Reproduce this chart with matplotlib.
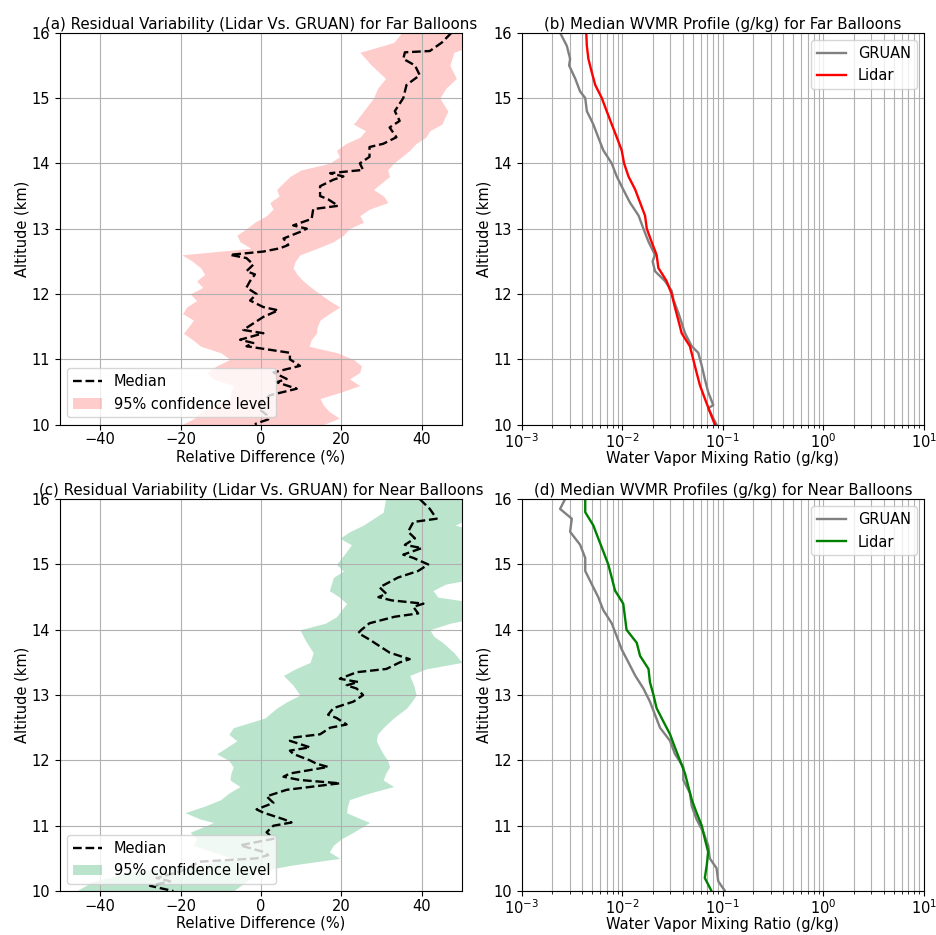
import matplotlib
matplotlib.use('Agg')
import matplotlib.pyplot as plt
import numpy as np

# ---- (a) far balloons: residual variability (%) ----
far_med_alt = [16.0, 15.85, 15.72, 15.7, 15.6, 15.5, 15.35, 15.2, 15.0, 14.8, 14.65, 14.55, 14.4,
               14.3, 14.25, 14.1, 14.0, 13.9, 13.85, 13.8, 13.75, 13.65, 13.5, 13.45, 13.35, 13.3,
               13.15, 13.05, 13.0, 12.95, 12.85, 12.75, 12.7, 12.65, 12.6, 12.55, 12.45, 12.35, 12.3,
               12.2, 12.1, 12.0, 11.9, 11.8, 11.75, 11.65, 11.55, 11.45, 11.4, 11.3, 11.25, 11.2,
               11.1, 11.0, 10.9, 10.8, 10.7, 10.65, 10.55, 10.45, 10.35, 10.25, 10.15, 10.08, 10.02, 10.0]
far_med = [47.4, 45.0, 42.0, 35.8, 35.4, 38.3, 39.5, 36.2, 35.4, 33.3, 34.5, 32.0, 33.7,
           30.4, 27.0, 27.0, 24.6, 25.4, 17.2, 20.5, 18.0, 14.7, 14.7, 16.7, 19.2, 13.0,
           12.6, 8.0, 11.4, 9.7, 5.6, 6.8, 4.7, 0.6, -7.7, -3.6, -1.9, -3.6, -1.5,
           -2.7, -3.6, -1.1, -2.7, 0.6, 4.3, 0.6, -1.9, -4.4, 0.6, -5.2, -1.9, -3.6,
           7.2, 7.2, 9.7, 3.1, 6.4, 3.9, 8.9, 2.2, 0.2, -0.7, 1.4, 1.8, -1.1, -1.5]

far_ci_alt = [16.0, 15.85, 15.7, 15.5, 15.3, 15.15, 15.0, 14.8, 14.6, 14.5, 14.4, 14.3, 14.2, 14.1,
              14.0, 13.9, 13.8, 13.7, 13.6, 13.5, 13.4, 13.3, 13.2, 13.1, 13.0, 12.9, 12.8, 12.7,
              12.6, 12.5, 12.4, 12.3, 12.2, 12.1, 12.0, 11.9, 11.8, 11.7, 11.6, 11.5, 11.4, 11.3,
              11.2, 11.1, 11.0, 10.9, 10.8, 10.7, 10.6, 10.5, 10.4, 10.3, 10.2, 10.1, 10.0]
far_ci_lo = [35.0, 33.0, 24.6, 27.5, 31.0, 29.0, 28.0, 25.5, 23.0, 26.0, 24.6, 21.0, 18.8, 19.5,
             17.0, 10.0, 7.2, 5.5, 3.9, 4.5, 2.2, 3.0, 1.4, -1.5, -3.6, -6.0, -5.2, -2.5,
             -19.7, -17.0, -15.0, -14.0, -16.0, -14.5, -17.6, -16.0, -18.5, -19.5, -16.8, -18.0, -19.3, -17.0,
             -15.0, -10.0, -7.7, -11.0, -13.5, -12.0, -6.9, -7.5, -7.7, -12.0, -15.0, -16.5, -19.7]
far_ci_hi = [55.0, 55.0, 48.0, 47.0, 48.6, 46.0, 44.5, 46.5, 45.0, 42.0, 41.0, 38.5, 37.0, 35.0,
             33.0, 31.5, 32.0, 30.0, 28.0, 30.5, 31.6, 27.0, 24.6, 25.5, 22.0, 20.5, 18.0, 14.0,
             9.7, 8.5, 8.0, 9.0, 10.5, 12.5, 14.7, 17.0, 19.6, 17.0, 14.7, 14.0, 13.8, 12.5,
             12.0, 19.0, 23.0, 25.0, 24.6, 22.0, 24.6, 20.0, 14.7, 15.5, 17.0, 19.5, 15.5]

# ---- (c) near balloons: residual variability (%) ----
near_med_alt = [16.0, 15.85, 15.7, 15.65, 15.5, 15.4, 15.3, 15.25, 15.15, 15.1, 15.0, 14.9, 14.8,
                14.65, 14.55, 14.5, 14.45, 14.4, 14.35, 14.25, 14.2, 14.1, 14.0, 13.95, 13.85, 13.75,
                13.65, 13.55, 13.5, 13.4, 13.35, 13.25, 13.2, 13.15, 13.1, 13.0, 12.9, 12.8, 12.7,
                12.65, 12.55, 12.5, 12.4, 12.35, 12.3, 12.2, 12.15, 12.1, 12.0, 11.95, 11.9, 11.8,
                11.75, 11.7, 11.65, 11.55, 11.5, 11.45, 11.35, 11.25, 11.2, 11.1, 11.05, 11.0, 10.9,
                10.8, 10.75, 10.7, 10.6, 10.55, 10.5, 10.45, 10.3, 10.2, 10.15, 10.08, 10.0]
near_med = [39.5, 42.0, 43.7, 37.9, 36.6, 38.3, 35.8, 40.0, 35.4, 37.9, 41.6, 39.1, 34.1,
            29.5, 31.2, 29.2, 32.5, 40.4, 37.9, 39.1, 33.3, 27.0, 25.0, 24.2, 27.0, 29.5,
            32.0, 37.0, 34.5, 31.2, 23.8, 19.6, 24.2, 21.3, 23.8, 25.4, 23.0, 18.0, 16.7,
            18.8, 21.3, 17.2, 14.7, 8.0, 7.2, 12.2, 7.2, 8.0, 12.2, 13.8, 16.7, 7.2,
            5.6, 9.7, 19.6, 6.4, 3.9, 1.4, 3.1, -1.1, 0.6, 5.6, 7.6, 3.1, 1.4,
            3.1, -1.1, -5.2, 0.6, 1.8, -1.1, -15.2, -20.0, -26.0, -22.6, -27.6, -21.8]

near_ci_alt = [16.0, 15.8, 15.6, 15.5, 15.4, 15.3, 15.2, 15.0, 14.9, 14.8, 14.7, 14.6, 14.5, 14.4,
               14.3, 14.2, 14.1, 14.0, 13.9, 13.8, 13.65, 13.5, 13.4, 13.3, 13.15, 13.0, 12.9, 12.8,
               12.65, 12.5, 12.4, 12.3, 12.2, 12.1, 12.0, 11.9, 11.8, 11.7, 11.6, 11.5, 11.4, 11.3,
               11.2, 11.1, 11.05, 10.9, 10.8, 10.7, 10.6, 10.5, 10.4, 10.3, 10.2, 10.15, 10.0]
near_ci_lo = [31.0, 30.4, 25.4, 22.0, 19.6, 22.5, 21.3, 18.8, 20.5, 18.0, 17.5, 17.0, 19.5, 21.3,
              20.0, 18.8, 16.0, 9.7, 10.5, 11.4, 13.0, 12.2, 8.5, 5.6, 8.0, 9.7, 6.5, 3.9,
              1.0, -6.9, -8.0, -6.0, -8.5, -11.0, -8.0, -6.9, -7.5, -7.7, -5.2, -8.0, -10.0, -14.0,
              -18.9, -15.0, -11.8, -17.6, -16.0, -16.8, -12.0, -6.9, -15.0, -31.8, -38.0, -41.7, -46.0]
near_ci_hi = [55.0, 55.0, 48.3, 55.0, 55.0, 55.0, 55.0, 55.0, 55.0, 55.0, 46.0, 42.8, 44.0, 55.0,
              55.0, 55.0, 47.0, 42.0, 43.0, 45.3, 48.0, 50.0, 41.0, 37.0, 38.0, 38.6, 37.5, 36.2,
              33.0, 30.4, 29.0, 28.7, 29.5, 30.4, 31.5, 32.0, 31.0, 30.4, 33.0, 27.0, 22.0, 21.5,
              21.3, 25.0, 27.0, 23.0, 20.0, 18.0, 17.0, 19.6, 8.0, -1.1, -2.5, -3.6, -6.9]

# ---- (b) far balloons: median WVMR (g/kg) ----
far_gruan_alt = [16.0, 15.8, 15.6, 15.5, 15.3, 15.1, 15.0, 14.8, 14.6, 14.4, 14.2, 14.0, 13.8, 13.6,
                 13.4, 13.2, 13.0, 12.8, 12.6, 12.5, 12.35, 12.2, 12.05, 11.9, 11.7, 11.4, 11.2, 11.1,
                 10.9, 10.7, 10.5, 10.3, 10.25, 10.1, 10.0]
far_gruan = [0.00240, 0.00280, 0.00302, 0.00295, 0.00339, 0.00380, 0.00427, 0.00443, 0.00513,
             0.00575, 0.00646, 0.00783, 0.00879, 0.0102, 0.0119, 0.0145, 0.0162, 0.0182, 0.0211,
             0.0200, 0.0211, 0.0265, 0.0309, 0.0324, 0.0363, 0.0420, 0.0490, 0.0569, 0.0617,
             0.0661, 0.0714, 0.0802, 0.0714, 0.0802, 0.0865]

far_lidar_alt = [16.0, 15.8, 15.6, 15.4, 15.2, 15.0, 14.8, 14.6, 14.4, 14.2, 14.0, 13.8, 13.6, 13.4,
                 13.2, 13.0, 12.8, 12.6, 12.4, 12.2, 12.0, 11.8, 11.6, 11.4, 11.2, 11.0, 10.8, 10.6,
                 10.4, 10.2, 10.0]
far_lidar = [0.00437, 0.00443, 0.00459, 0.00495, 0.00537, 0.00624, 0.00698, 0.00783, 0.00879,
             0.00984, 0.0104, 0.0115, 0.0134, 0.0150, 0.0168, 0.0175, 0.0195, 0.0219, 0.0228,
             0.0275, 0.0309, 0.0333, 0.0360, 0.0389, 0.0470, 0.0507, 0.0547, 0.0592, 0.0661,
             0.0741, 0.0832]

# ---- (d) near balloons: median WVMR (g/kg) ----
near_gruan_alt = [16.0, 15.85, 15.7, 15.5, 15.3, 15.1, 14.9, 14.7, 14.5, 14.3, 14.1, 13.9, 13.7,
                  13.5, 13.3, 13.1, 12.9, 12.7, 12.5, 12.3, 12.1, 11.9, 11.7, 11.5, 11.3, 11.1,
                  10.9, 10.7, 10.5, 10.35, 10.15, 10.0]
near_gruan = [0.00269, 0.00240, 0.00314, 0.00302, 0.00380, 0.00427, 0.00427, 0.00495, 0.00575,
              0.00646, 0.00783, 0.00879, 0.00984, 0.0115, 0.0134, 0.0162, 0.0188, 0.0211, 0.0237,
              0.0298, 0.0333, 0.0404, 0.0404, 0.0470, 0.0490, 0.0547, 0.0638, 0.0714, 0.0741,
              0.0865, 0.0899, 0.105]

near_lidar_alt = far_lidar_alt
near_lidar = [0.00427, 0.00427, 0.00513, 0.00575, 0.00646, 0.00724, 0.00783, 0.00845, 0.0102,
              0.0106, 0.0110, 0.0139, 0.0150, 0.0182, 0.0188, 0.0204, 0.0219, 0.0255, 0.0298,
              0.0333, 0.0374, 0.0420, 0.0453, 0.0490, 0.0547, 0.0617, 0.0661, 0.0714, 0.0692,
              0.0661, 0.0771]

plt.rcParams['font.family'] = ['DejaVu Sans']
plt.rcParams['font.size'] = 10.5
plt.rcParams['xtick.major.pad'] = 2.0
plt.rcParams['axes.labelpad'] = 1.5

fig, axs = plt.subplots(2, 2, figsize=(9.37, 9.35), dpi=100)
plt.subplots_adjust(left=0.064, right=0.986, bottom=0.047, top=0.965, wspace=0.149, hspace=0.19)


def residual_panel(ax, med_alt, med, ci_alt, lo, hi, color, alpha, title):
    ax.plot(med, med_alt, 'k--', lw=1.7, label='Median', zorder=3)
    ax.fill_betweenx(ci_alt, lo, hi, color=color, alpha=alpha, lw=0, label='95% confidence level')
    ax.set_xlim(-50, 50)
    ax.set_ylim(10, 16)
    ax.set_xlabel('Relative Difference (%)')
    ax.set_ylabel('Altitude (km)')
    ax.set_title(title, fontsize=10.8, pad=3)
    ax.grid(True)
    ax.legend(loc='lower left')


def profile_panel(ax, g_alt, g, l_alt, l, lcolor, title):
    ax.plot(g, g_alt, color='gray', lw=1.7, label='GRUAN')
    ax.plot(l, l_alt, color=lcolor, lw=1.7, label='Lidar')
    ax.set_xscale('log')
    ax.set_xlim(1e-3, 10)
    ax.set_ylim(10, 16)
    ax.set_xlabel('Water Vapor Mixing Ratio (g/kg)', labelpad=0)
    ax.set_ylabel('Altitude (km)')
    ax.set_title(title, fontsize=10.8, pad=3)
    ax.grid(True, which='both')
    ax.legend(loc='upper right')


residual_panel(axs[0, 0], far_med_alt, far_med, far_ci_alt, far_ci_lo, far_ci_hi, 'red', 0.2,
               '(a) Residual Variability (Lidar Vs. GRUAN) for Far Balloons')
profile_panel(axs[0, 1], far_gruan_alt, far_gruan, far_lidar_alt, far_lidar, 'red',
              '(b) Median WVMR Profile (g/kg) for Far Balloons')
residual_panel(axs[1, 0], near_med_alt, near_med, near_ci_alt, near_ci_lo, near_ci_hi, '#3cb371', 0.35,
               '(c) Residual Variability (Lidar Vs. GRUAN) for Near Balloons')
profile_panel(axs[1, 1], near_gruan_alt, near_gruan, near_lidar_alt, near_lidar, 'green',
              '(d) Median WVMR Profiles (g/kg) for Near Balloons')

plt.savefig('out.png', dpi=100)
